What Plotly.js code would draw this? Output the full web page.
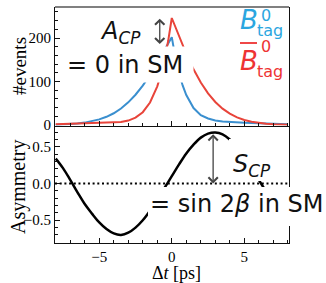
<!DOCTYPE html>
<html><head><meta charset="utf-8">
<script src="https://cdn.plot.ly/plotly-3.0.1.min.js"></script>
<style>html,body{margin:0;padding:0;background:#fff}#chart{width:326px;height:283px}</style>
</head><body><div id="chart"></div>
<script>
// ---- data ----
const timeTop = [-8,-7.5,-7,-6.5,-6,-5.5,-5,-4.5,-4,-3.5,-3,-2.5,-2,-1.5,-1,-0.75,-0.5,-0.25,0,0.25,0.5,0.75,1,1.5,2,2.5,3,3.5,4,4.5,5,5.5,6,6.5,7,7.5,8];
const eventsB0tag = [0.7,1.3,2.1,3.5,5.5,8.5,12.9,18.9,27,38,52,69.6,90.6,115,143,157,172,187,202,155,119,91,69,39,22.5,15,10.5,8,6.5,5.6,5,4.5,4,3.4,2.8,2.3,1.8];
const eventsB0barTag = [1.6,2.0,2.4,2.8,3.1,3.5,3.8,4.3,5.1,6.7,10.2,16.9,29.4,51.7,89,116,150.5,193,246,225,204,182,163.5,128,97.6,72.7,53,37.6,26,17.6,11.6,7.5,4.7,2.8,1.7,1.0,0.6];
const timeAsym = [-8,-7.5,-7,-6.5,-6,-5.5,-5,-4.5,-4,-3.5,-3,-2.5,-2,-1.5,-1,-0.5,0,0.5,1,1.5,2,2.5,3,3.5,4,4.5,5,5.5,6,6.5,7,7.5,8];
const asymmetry = [0.34,0.21,0.05,-0.12,-0.28,-0.41,-0.53,-0.62,-0.68,-0.70,-0.67,-0.60,-0.50,-0.37,-0.22,-0.06,0.10,0.26,0.41,0.53,0.625,0.68,0.695,0.67,0.60,0.50,0.37,0.22,0.05,-0.11,-0.27,-0.41,-0.53];
const topTicks = [0,100,200];
const asymTicks = [-0.5,0.0,0.5];
const timeTicks = [-5,0,5];
const timeTickText = ['\u22125','0','5'];

// ---- layout helpers (pixel -> paper) ----
const L=55, R=289, T=7, B=243;
const px = x => (x-L)/(R-L);
const py = y => (B-y)/(B-T);
const split = py(125.5);

const BLUE='#3a8fcf', RED='#e8443a';
const serif='Liberation Serif';
const sans='DejaVu Sans';

const traces = [
  {x: timeTop, y: eventsB0tag, xaxis:'x', yaxis:'y', mode:'lines', line:{color:BLUE, width:2}, hoverinfo:'skip'},
  {x: timeTop, y: eventsB0barTag, xaxis:'x', yaxis:'y', mode:'lines', line:{color:RED, width:2}, hoverinfo:'skip'},
  {x: timeAsym, y: asymmetry, xaxis:'x2', yaxis:'y2', mode:'lines', line:{color:'#000', width:2.5, shape:'spline', smoothing:1}, hoverinfo:'skip'}
];

const tickFont = {family: serif, size: 15, color:'#000'};
const axisCommon = {showgrid:false, zeroline:false, showline:true, linecolor:'#111', linewidth:1,
  ticks:'inside', ticklen:5, tickwidth:1, tickcolor:'#111', tickfont:tickFont};

const layout = {
  width:326, height:283,
  margin:{l:L, r:326-R, t:T, b:283-B, pad:0},
  paper_bgcolor:'#fff', plot_bgcolor:'#fff',
  showlegend:false,
  xaxis: Object.assign({}, axisCommon, {domain:[0,1], anchor:'y', range:[-8.05,8.08], tickvals:timeTicks, showticklabels:false,
    minor:{ticks:'inside', ticklen:3, dtick:1, tick0:0, tickcolor:'#111'}}),
  yaxis: Object.assign({}, axisCommon, {domain:[split,1], anchor:'x', range:[-1.15,271.3], tickvals:topTicks, mirror:true,
    minor:{ticks:'inside', ticklen:3, dtick:20, tick0:0, tickcolor:'#111'}}),
  xaxis2: Object.assign({}, axisCommon, {domain:[0,1], anchor:'y2', range:[-8.05,8.08], tickvals:timeTicks, ticktext:timeTickText,
    minor:{ticks:'inside', ticklen:3, dtick:1, tick0:0, tickcolor:'#111'}}),
  yaxis2: Object.assign({}, axisCommon, {domain:[0,split], anchor:'x2', range:[-0.81,0.79], tickvals:asymTicks, tickformat:'.1f', mirror:true,
    minor:{ticks:'inside', ticklen:3, dtick:0.1, tick0:0, tickcolor:'#111'}}),
  shapes:[
    {type:'line', xref:'paper', yref:'paper', x0:0, x1:1, y0:1, y1:1, line:{color:'#808080', width:2}, layer:'above'},
    {type:'line', xref:'x2 domain', yref:'y2', x0:0, x1:1, y0:0, y1:0, line:{color:'#000', width:2, dash:'2px,2.7px'}, layer:'above'},
    // white text backgrounds that hide parts of the curves
    {type:'rect', xref:'paper', yref:'paper', x0:px(64), x1:px(193.5), y0:py(82.5), y1:py(46.5), fillcolor:'#fff', line:{width:0}, layer:'above'},
    {type:'rect', xref:'paper', yref:'paper', x0:px(229), x1:px(287), y0:py(181), y1:py(139), fillcolor:'#fff', line:{width:0}, layer:'above'},
    {type:'rect', xref:'paper', yref:'paper', x0:px(148), x1:px(326), y0:py(226), y1:py(187), fillcolor:'#fff', line:{width:0}, layer:'above'},
    // overline of the anti-B
    {type:'line', xref:'paper', yref:'paper', x0:px(240), x1:px(257), y0:py(43), y1:py(43), line:{color:'#ee3333', width:1.8}, layer:'above'}
  ],
  annotations:[
    // axis titles
    {text:'#events', xref:'paper', yref:'paper', x:px(19), y:py(66), xanchor:'center', yanchor:'middle', showarrow:false, textangle:-90, font:{family:serif, size:19, color:'#000'}},
    {text:'Asymmetry', xref:'paper', yref:'paper', x:px(18), y:py(187), xanchor:'center', yanchor:'middle', showarrow:false, textangle:-90, font:{family:serif, size:20, color:'#000'}},
    {text:'\u0394<i>t</i> [ps]', xref:'paper', yref:'paper', x:px(176), y:py(272.5), xanchor:'center', yanchor:'middle', showarrow:false, font:{family:serif, size:18, color:'#000'}},
    // arrows
    {x:-0.83, y:186, ax:-0.83, ay:248, xref:'x', yref:'y', axref:'x', ayref:'y', text:'', showarrow:true, arrowside:'end+start', arrowhead:4, startarrowhead:4, arrowsize:1.4, startarrowsize:1.4, arrowwidth:1.3, arrowcolor:'#444'},
    {x:2.85, y:0.0, ax:2.85, ay:0.69, xref:'x2', yref:'y2', axref:'x2', ayref:'y2', text:'', showarrow:true, arrowside:'end+start', arrowhead:4, startarrowhead:4, arrowsize:1.4, startarrowsize:1.4, arrowwidth:1.3, arrowcolor:'#444'},
    // texts
    {text:'<i>A</i><sub><i>CP</i></sub>', xref:'paper', yref:'paper', x:px(98), y:py(32), xanchor:'left', yanchor:'middle', showarrow:false, font:{family:sans, size:24, color:'#111'}},
    {text:'= 0 in SM', xref:'paper', yref:'paper', x:px(125), y:py(65), xanchor:'center', yanchor:'middle', showarrow:false, font:{family:sans, size:24, color:'#111'}},
    {text:'<i>S</i><sub><i>CP</i></sub>', xref:'paper', yref:'paper', x:px(231), y:py(165), xanchor:'left', yanchor:'middle', showarrow:false, font:{family:sans, size:24, color:'#111'}},
    {text:'= sin 2<i>\u03b2</i> in SM', xref:'paper', yref:'paper', x:px(236), y:py(204), xanchor:'center', yanchor:'middle', showarrow:false, font:{family:sans, size:24, color:'#111'}},
    // legend-like labels
    {text:'<i>B</i>', xref:'paper', yref:'paper', x:px(238), y:py(20), xanchor:'left', yanchor:'middle', showarrow:false, font:{family:sans, size:26, color:'#2ba6e0'}},
    {text:'0', xref:'paper', yref:'paper', x:px(259), y:py(15), xanchor:'left', yanchor:'middle', showarrow:false, font:{family:sans, size:16, color:'#2ba6e0'}},
    {text:'tag', xref:'paper', yref:'paper', x:px(255), y:py(31), xanchor:'left', yanchor:'middle', showarrow:false, font:{family:sans, size:16, color:'#2ba6e0'}},
    {text:'<i>B</i>', xref:'paper', yref:'paper', x:px(238), y:py(61), xanchor:'left', yanchor:'middle', showarrow:false, font:{family:sans, size:26, color:'#ee3333'}},
    {text:'0', xref:'paper', yref:'paper', x:px(259), y:py(46), xanchor:'left', yanchor:'middle', showarrow:false, font:{family:sans, size:16, color:'#ee3333'}},
    {text:'tag', xref:'paper', yref:'paper', x:px(255), y:py(71), xanchor:'left', yanchor:'middle', showarrow:false, font:{family:sans, size:16, color:'#ee3333'}}
  ]
};

Plotly.newPlot('chart', traces, layout, {staticPlot:true, displayModeBar:false});
</script>
</body></html>
